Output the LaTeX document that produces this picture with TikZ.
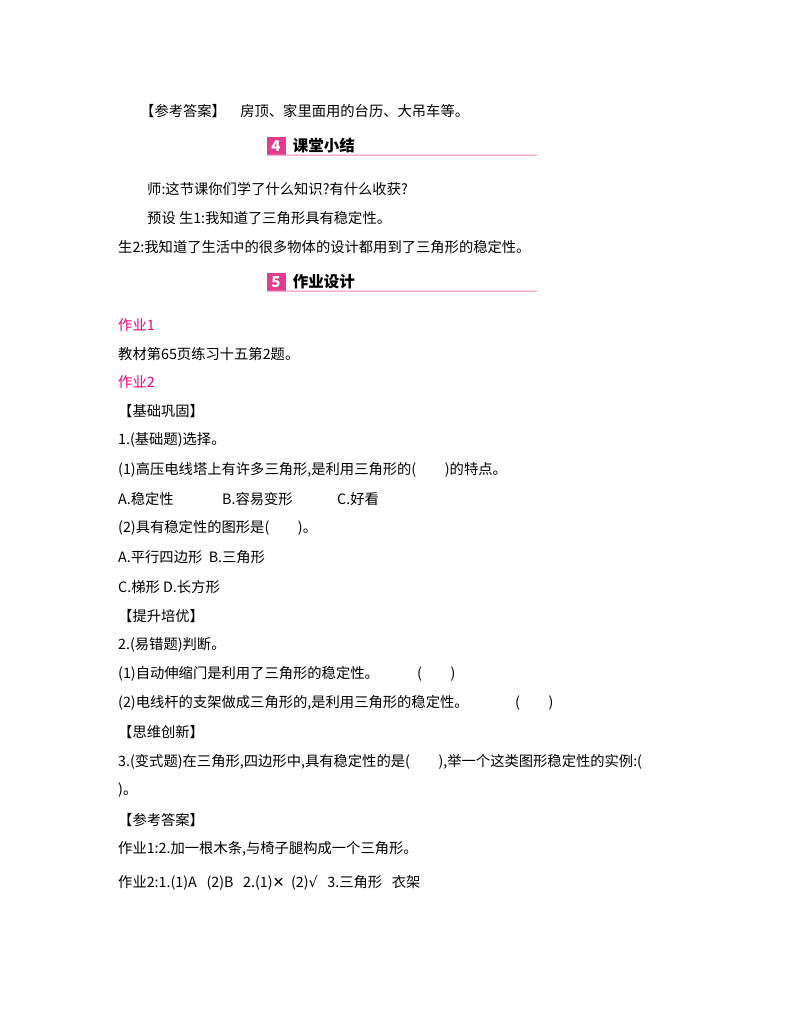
\documentclass[tikz,border=0pt]{standalone}
\usepackage{fontspec}
\setmainfont{Noto Sans CJK SC}
\newfontfamily\symfont{DejaVu Sans}
\usetikzlibrary{positioning}
\definecolor{hdpink}{RGB}{226,60,140}
\tikzset{
  txt/.style={anchor=west, inner sep=0pt, font=\fontsize{14.3}{14.3}\selectfont},
  pinktxt/.style={txt, text=magenta!85!red},
  numbox/.style={fill=hdpink, text=white, font=\bfseries\itshape\fontsize{15}{15}\selectfont, minimum width=19pt, minimum height=18pt, inner sep=0pt},
  hdtxt/.style={anchor=west, inner sep=0pt, font=\bfseries\fontsize{15.5}{15.5}\selectfont}
}
\begin{document}
\begin{tikzpicture}[x=1pt,y=-1pt]
\useasboundingbox[fill=white] (0,0) rectangle (800,1028);

\node[txt] (ans0) at (140,111) {【参考答案】\quad 房顶、家里面用的台历、大吊车等。};

% section 4
\node[numbox] (n4) at (276,146) {4};
\node[hdtxt, right=7pt of n4] (h4) {课堂小结};
\draw[hdpink!60, line width=1pt] (n4.south west) -- (537,155);

\node[txt] (l1) at (147,189) {师:这节课你们学了什么知识?有什么收获?};
\node[txt] (l2) at (147,218) {预设\ 生1:我知道了三角形具有稳定性。};
\node[txt] (l3) at (118,247) {生2:我知道了生活中的很多物体的设计都用到了三角形的稳定性。};

% section 5
\node[numbox] (n5) at (276,282) {5};
\node[hdtxt, right=7pt of n5] (h5) {作业设计};
\draw[hdpink!60, line width=1pt] (n5.south west) -- (537,291);

\node[pinktxt] (z1) at (118,325) {作业1};
\node[txt] (z1a) at (118,354) {教材第65页练习十五第2题。};
\node[pinktxt] (z2) at (118,382) {作业2};
\node[txt] (b1) at (118,411) {【基础巩固】};
\node[txt] (q1) at (118,440) {1.(基础题)选择。};
\node[txt] (q11) at (118,470) {(1)高压电线塔上有许多三角形,是利用三角形的(\qquad)的特点。};
\node[txt] (q11a) at (118,499) {A.稳定性};
\node[txt] (q11b) at (222,499) {B.容易变形};
\node[txt] (q11c) at (337,499) {C.好看};
\node[txt] (q12) at (118,528) {(2)具有稳定性的图形是(\qquad)。};
\node[txt] (q12a) at (118,557) {A.平行四边形\ \ B.三角形};
\node[txt] (q12c) at (118,587) {C.梯形\ D.长方形};
\node[txt] (b2) at (118,616) {【提升培优】};
\node[txt] (q2) at (118,645) {2.(易错题)判断。};
\node[txt] (q21) at (118,674) {(1)自动伸缩门是利用了三角形的稳定性。};
\node[txt] (q21p) at (417,674) {(\qquad)};
\node[txt] (q22) at (118,703) {(2)电线杆的支架做成三角形的,是利用三角形的稳定性。};
\node[txt] (q22p) at (515,703) {(\qquad)};
\node[txt] (b3) at (118,732) {【思维创新】};
\node[txt] (q3) at (118,762) {3.(变式题)在三角形,四边形中,具有稳定性的是(\qquad),举一个这类图形稳定性的实例:(};
\node[txt] (q3b) at (118,790) {)。};
\node[txt] (b4) at (118,820) {【参考答案】};
\node[txt] (a1) at (118,849) {作业1:2.加一根木条,与椅子腿构成一个三角形。};
\node[txt] (a2) at (118,883) {作业2:1.(1)A\ \ \ (2)B\ \ \ 2.(1){\symfont ✕}\ \ (2){\symfont √}\ \ \ 3.三角形\ \ \ 衣架};
\end{tikzpicture}
\end{document}
